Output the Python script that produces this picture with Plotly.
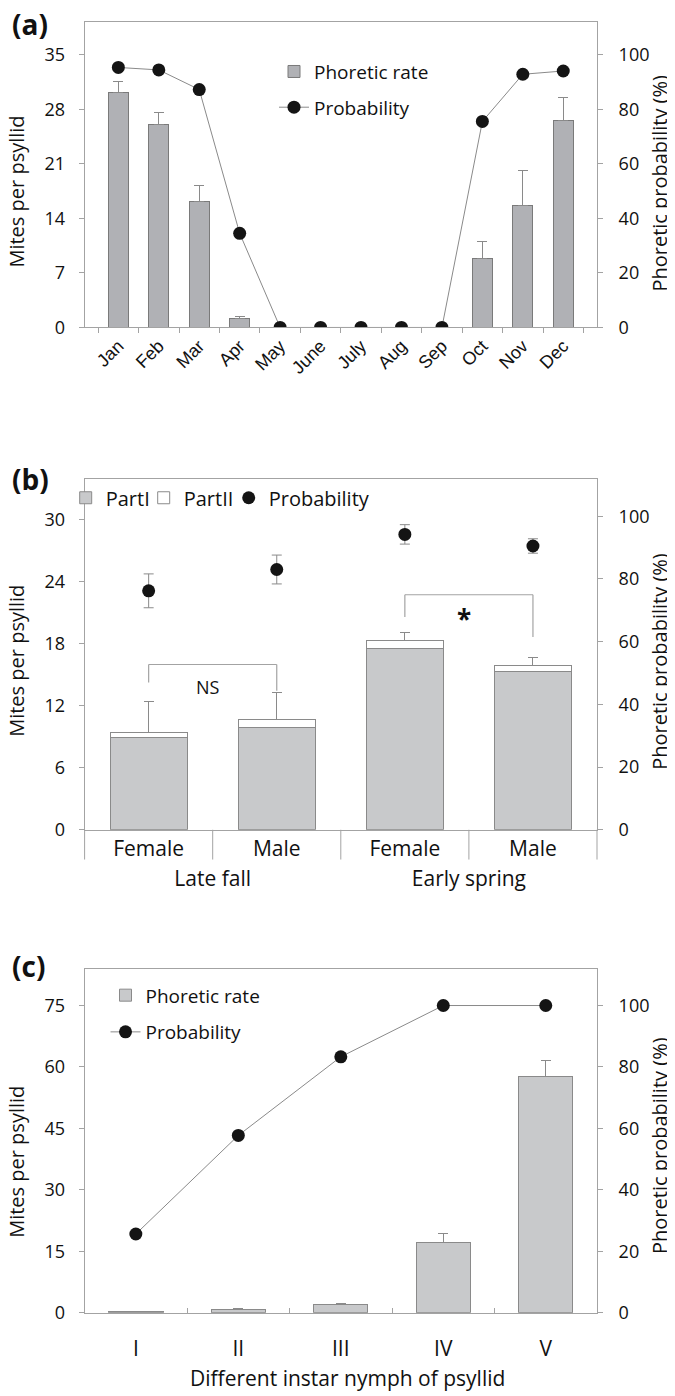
import plotly.graph_objects as go

W, H = 675, 1396

# ---------------- data ----------------
# Panel (a)
months = ["Jan", "Feb", "Mar", "Apr", "May", "June", "July", "Aug", "Sep", "Oct", "Nov", "Dec"]
rate_a = [30.1, 26.1, 16.2, 1.1, 0, 0, 0, 0, 0, 8.9, 15.7, 26.5]
rate_a_err = [1.5, 1.5, 2.0, 0.35, None, None, None, None, None, 2.1, 4.4, 3.0]
prob_a = [95.3, 94.4, 87.2, 34.5, 0, 0, 0, 0, 0, 75.5, 92.8, 94.0]

# Panel (b)
season = ["Late fall", "Late fall", "Early spring", "Early spring"]
sex = ["Female", "Male", "Female", "Male"]
part1_b = [8.97, 9.87, 17.56, 15.32]
part2_b = [0.48, 0.80, 0.74, 0.55]
total_err_b = [2.98, 2.63, 0.77, 0.76]
prob_b = [76.2, 83.0, 94.2, 90.5]
prob_b_err = [5.4, 4.6, 3.1, 2.3]

# Panel (c)
instars = ["I", "II", "III", "IV", "V"]
rate_c = [0.2, 0.7, 1.9, 17.1, 57.7]
rate_c_err = [0.15, 0.25, 0.4, 2.3, 3.8]
prob_c = [25.6, 57.7, 83.3, 100, 100]

# ---------------- styles ----------------
FONT = "Open Sans, Noto Sans, sans-serif"
ARIAL = "Liberation Sans, Arial, sans-serif"
AXC = "#a3a3a3"
ERRC = "#8a8a8a"
BAR_A = "#b0b1b5"
BAR_BC = "#c8c9cb"
BAR_LINE = "#8a8a8a"
MK = "#141414"
TXT = "#111111"


def px_x(p):
    return p / W


def px_y(p):
    return 1 - p / H


X0, X1 = 76.6, 589.0
PANELS = {
    "a": (14.0, 322.0),
    "b": (474.3, 828.3),
    "c": (968.3, 1315.0),
}

fig = go.Figure()

# ---- Panel (a)
fig.add_trace(go.Bar(
    x=months, y=rate_a, name="Phoretic rate", xaxis="x", yaxis="y",
    marker=dict(color=BAR_A, line=dict(color="#7a7a7a", width=1)), width=0.5,
    error_y=dict(type="data", array=rate_a_err, symmetric=False, arrayminus=[0] * 12,
                 color=ERRC, thickness=1, width=5),
    legend="legend", legendgroup="a1",
))
fig.add_trace(go.Scatter(
    x=months, y=prob_a, name="Probability", xaxis="x", yaxis="y2", mode="lines+markers",
    line=dict(color=ERRC, width=1), marker=dict(color=MK, size=13),
    legend="legend", legendgroup="a2",
))

# ---- Panel (b)
xb = [season, sex]
fig.add_trace(go.Bar(
    x=xb, y=part1_b, name="PartI", xaxis="x2", yaxis="y3", width=0.6,
    marker=dict(color=BAR_BC, line=dict(color=BAR_LINE, width=1)),
    legend="legend2", legendwidth=33,
))
fig.add_trace(go.Bar(
    x=xb, y=part2_b, name="PartII", xaxis="x2", yaxis="y3", width=0.6,
    marker=dict(color="white", line=dict(color=BAR_LINE, width=1)),
    error_y=dict(type="data", array=total_err_b, symmetric=False, arrayminus=[0] * 4,
                 color=ERRC, thickness=1, width=5),
    legend="legend2", legendwidth=40,
))
fig.add_trace(go.Scatter(
    x=xb, y=prob_b, name="Probability", xaxis="x2", yaxis="y4", mode="markers",
    marker=dict(color=MK, size=13),
    error_y=dict(type="data", array=prob_b_err, color=ERRC, thickness=1, width=5),
    legend="legend2",
))

# ---- Panel (c)
fig.add_trace(go.Bar(
    x=instars, y=rate_c, name="Phoretic rate", xaxis="x3", yaxis="y5", width=0.53,
    marker=dict(color=BAR_BC, line=dict(color=BAR_LINE, width=1)),
    error_y=dict(type="data", array=rate_c_err, symmetric=False, arrayminus=[0] * 5,
                 color=ERRC, thickness=1, width=5),
    legend="legend3", legendgroup="c1",
))
fig.add_trace(go.Scatter(
    x=instars, y=prob_c, name="Probability", xaxis="x3", yaxis="y6", mode="lines+markers",
    line=dict(color=ERRC, width=1), marker=dict(color=MK, size=13),
    legend="legend3", legendgroup="c2",
))

# ---------------- axes ----------------
tickfont = dict(family=FONT, size=18, color=TXT)
xdom = [px_x(X0), px_x(X1)]


def ydom(k):
    top, bot = PANELS[k]
    return [px_y(bot), px_y(top)]


common_y = dict(showline=True, linecolor=AXC, linewidth=1, ticks="outside", ticklen=5,
                tickcolor=AXC, showgrid=False, zeroline=False, tickfont=tickfont)

layout = dict(
    width=W, height=H, autosize=False,
    margin=dict(l=0, r=0, t=0, b=0),
    paper_bgcolor="white", plot_bgcolor="white",
    barmode="stack", bargap=0.4,
    showlegend=True,
    font=dict(family=FONT, color=TXT),
    xaxis=dict(domain=xdom, anchor="y", type="category", showline=True, mirror=True,
               linecolor=AXC, ticks="outside", ticklen=5, tickcolor=AXC, tickson="boundaries",
               tickangle=-45, tickfont=dict(family=ARIAL, size=18, color=TXT), showgrid=False),
    yaxis=dict(domain=ydom("a"), anchor="x", range=[0, 39.2], dtick=7, mirror=True,
               ticklabelstandoff=10, **common_y),
    yaxis2=dict(domain=ydom("a"), anchor="x", overlaying="y", side="right", range=[0, 112],
                dtick=20, ticklabelstandoff=12, **common_y),
    xaxis2=dict(domain=xdom, anchor="y3", type="multicategory", showline=True, mirror=True,
                linecolor=AXC, ticks="", showdividers=False, showgrid=False,
                tickfont=dict(family=FONT, size=21, color=TXT)),
    yaxis3=dict(domain=ydom("b"), anchor="x2", range=[0, 34], dtick=6, mirror=True,
                ticklabelstandoff=10, **common_y),
    yaxis4=dict(domain=ydom("b"), anchor="x2", overlaying="y3", side="right", range=[0, 112],
                dtick=20, ticklabelstandoff=12, **common_y),
    xaxis3=dict(domain=xdom, anchor="y5", type="category", showline=True, mirror=True,
                linecolor=AXC, ticks="inside", ticklen=5, tickcolor=AXC, tickson="boundaries",
                tickfont=dict(family=FONT, size=21, color=TXT), ticklabelstandoff=17,
                showgrid=False),
    yaxis5=dict(domain=ydom("c"), anchor="x3", range=[0, 84], dtick=15, mirror=True,
                ticklabelstandoff=10, **common_y),
    yaxis6=dict(domain=ydom("c"), anchor="x3", overlaying="y5", side="right", range=[0, 112],
                dtick=20, ticklabelstandoff=12, **common_y),
    legend=dict(x=px_x(266), y=px_y(45), xanchor="left", yanchor="top", orientation="v",
                bgcolor="rgba(0,0,0,0)", font=dict(family=FONT, size=19, color=TXT),
                traceorder="grouped", tracegroupgap=8, itemwidth=30),
    legend2=dict(x=px_x(57.7), y=px_y(474), xanchor="left", yanchor="top", orientation="h",
                 bgcolor="rgba(0,0,0,0)", font=dict(family=FONT, size=20, color=TXT),
                 traceorder="normal", itemwidth=30),
    legend3=dict(x=px_x(97.5), y=px_y(976), xanchor="left", yanchor="top", orientation="v",
                 bgcolor="rgba(0,0,0,0)", font=dict(family=FONT, size=19, color=TXT),
                 traceorder="grouped", tracegroupgap=9, itemwidth=30),
)
fig.update_layout(**layout)

# ---------------- annotations ----------------
ann = []
for lab, yc in (("(a)", 16), ("(b)", 475), ("(c)", 966)):
    ann.append(dict(text="<b>%s</b>" % lab, x=px_x(2), y=px_y(yc), xref="paper", yref="paper",
                    xanchor="left", yanchor="middle", showarrow=False,
                    font=dict(family=FONT, size=28, color=TXT)))

for yc in (185, 658, 1163):
    ann.append(dict(text="Mites per psyllid", x=px_x(9), y=px_y(yc), xref="paper", yref="paper",
                    textangle=-90, showarrow=False, xanchor="center", yanchor="middle",
                    font=dict(family=FONT, size=20, color=TXT)))
for yc in (177, 659, 1147):
    ann.append(dict(text="Phoretic probability (%)", x=px_x(652), y=px_y(yc), xref="paper",
                    yref="paper", textangle=-90, showarrow=False, xanchor="center",
                    yanchor="middle", font=dict(family=FONT, size=20, color=TXT)))

ann.append(dict(text="Different instar nymph of psyllid", x=px_x(340), y=px_y(1381),
                xref="paper", yref="paper", showarrow=False, xanchor="center", yanchor="middle",
                font=dict(family=FONT, size=21, color=TXT)))

# significance brackets in panel (b)
nb = len(sex)
shapes = []


def cat_frac(i):
    return (i + 0.5) / nb


def bracket(i, j, ytop, yl, yr, label, lab_y, size, bold=False):
    shapes.append(dict(type="line", xref="x2 domain", yref="y3", x0=cat_frac(i), x1=cat_frac(j),
                       y0=ytop, y1=ytop, line=dict(color=AXC, width=1.2)))
    shapes.append(dict(type="line", xref="x2 domain", yref="y3", x0=cat_frac(i), x1=cat_frac(i),
                       y0=ytop, y1=yl, line=dict(color=AXC, width=1.2)))
    shapes.append(dict(type="line", xref="x2 domain", yref="y3", x0=cat_frac(j), x1=cat_frac(j),
                       y0=ytop, y1=yr, line=dict(color=AXC, width=1.2)))
    txt = "<b>%s</b>" % label if bold else label
    ann.append(dict(text=txt, xref="x2 domain", yref="y3", x=(cat_frac(i) + cat_frac(j)) / 2 - 0.01,
                    y=lab_y, showarrow=False, xanchor="center", yanchor="middle",
                    font=dict(family=FONT, size=size, color=TXT)))


bracket(0, 1, 16.0, 14.26, 13.46, "NS", 13.8, 18)
bracket(2, 3, 22.75, 20.6, 18.65, "*", 20.4, 26, bold=True)

# category divider lines below the panel (b) axis
top_b, bot_b = PANELS["b"]
for k in range(nb + 1):
    shapes.append(dict(type="line", xref="x2 domain", yref="paper", x0=k / nb, x1=k / nb,
                       y0=px_y(bot_b), y1=px_y(bot_b + 30), line=dict(color=AXC, width=1)))

fig.update_layout(annotations=ann, shapes=shapes)

fig.write_html("out.html")
